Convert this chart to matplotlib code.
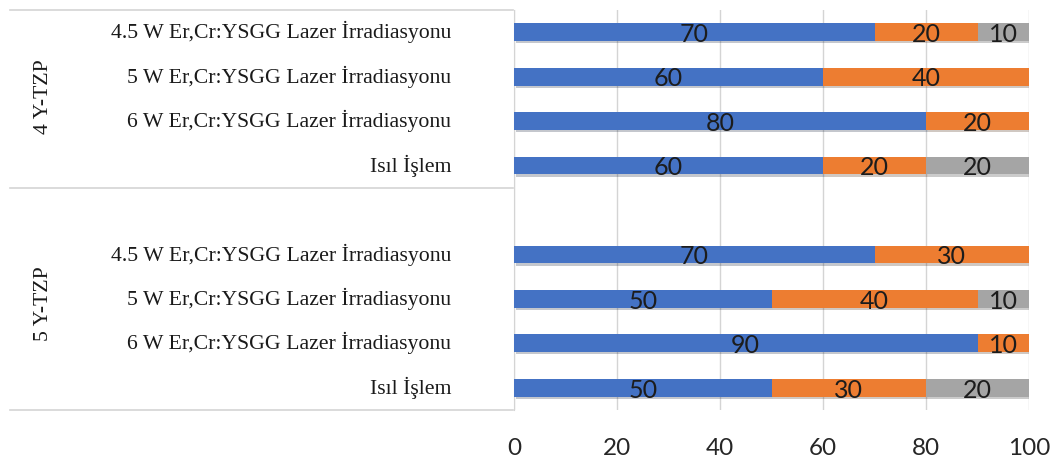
import numpy as np
import matplotlib
matplotlib.use("Agg")
import matplotlib.pyplot as plt
import matplotlib.transforms as mtransforms
import matplotlib.patheffects as pe

# treatment rows, top to bottom within each material group
treatments = ["4.5 W Er,Cr:YSGG Lazer İrradiasyonu",
              "5 W Er,Cr:YSGG Lazer İrradiasyonu",
              "6 W Er,Cr:YSGG Lazer İrradiasyonu",
              "Isıl İşlem"]
groups = ["4 Y-TZP", "5 Y-TZP"]

# percentages per row: group 4 Y-TZP first, then 5 Y-TZP
part_blue = [70, 60, 80, 60, 70, 50, 90, 50]
part_orange = [20, 40, 20, 20, 30, 40, 10, 30]
part_gray = [10, 0, 0, 20, 0, 10, 0, 20]
xticks = [0, 20, 40, 60, 80, 100]

COLORS = ["#4472C4", "#ED7D31", "#A5A5A5"]
LINE = "#d4d4d4"
SERIF = "Liberation Serif"
SANS = "Lato"

# one empty slot between the two groups
ypos = np.array([0, 1, 2, 3, 5, 6, 7, 8])

fig = plt.figure(figsize=(10.59, 4.62), dpi=100)
ax = fig.add_axes([514 / 1059, 1 - 410 / 462, (1029 - 514) / 1059, 400 / 462])

left = np.zeros(len(ypos))
shadow = [pe.SimplePatchShadow(offset=(1.2, -1.6), alpha=0.25), pe.Normal()]
for vals, col in zip([part_blue, part_orange, part_gray], COLORS):
    vals = np.asarray(vals, dtype=float)
    bars = ax.barh(ypos, vals, left=left, height=0.4, color=col, zorder=3)
    for b in bars:
        b.set_path_effects(shadow)
    for y, l, v in zip(ypos, left, vals):
        if v > 0:
            ax.text(l + v / 2, y + 0.05, f"{v:g}", ha="center", va="center",
                    fontsize=18, family=SANS, color="#1c1c1c", zorder=4)
    left += vals

ax.set_xlim(0, 100)
ax.set_ylim(8.5, -0.5)
ax.set_xticks(xticks)
ax.set_xticklabels([str(t) for t in xticks], fontsize=17.5, family=SANS, color="#262626")
ax.tick_params(axis="x", length=0, pad=20)
ax.set_yticks([])
ax.grid(axis="x", color=LINE, lw=1, zorder=0)
for s in ["top", "right", "bottom"]:
    ax.spines[s].set_visible(False)
ax.spines["left"].set_color(LINE)

# label table on the left
trans = mtransforms.blended_transform_factory(fig.transFigure, ax.transData)
x0, x1 = 10 / 1059, 513 / 1059
for yl in [-0.5, 3.5, 8.5]:
    ax.plot([x0, x1], [yl, yl], transform=trans, color=LINE, lw=1.2,
            clip_on=False)

for i, y in enumerate(ypos):
    ax.text(451 / 1059, y, treatments[i % 4], transform=trans, ha="right",
            va="center", fontsize=15.7, family=SERIF, color="#1a1a1a")

for name, yf in zip(groups, [1 - 97 / 462, 1 - 304 / 462]):
    fig.text(44 / 1059, yf, name, rotation=90, ha="center", va="center",
             fontsize=15.7, family=SERIF, color="#1a1a1a")

fig.savefig("out.png", dpi=100)
